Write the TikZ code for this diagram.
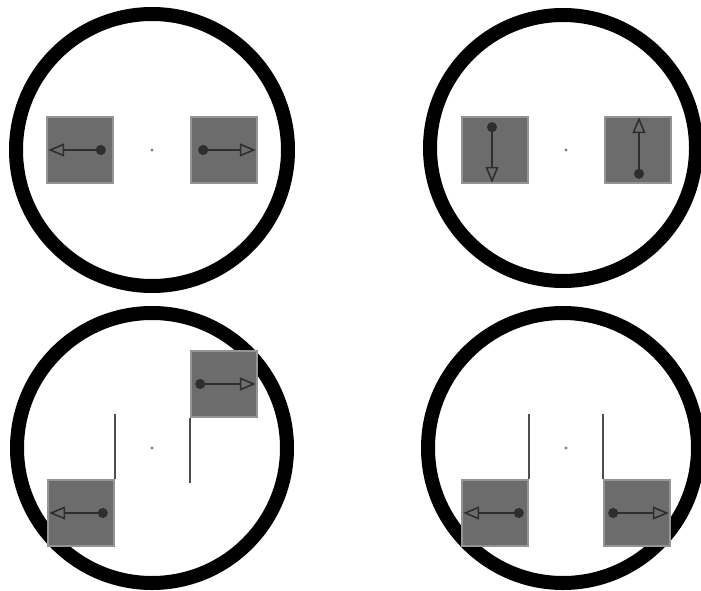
\documentclass[tikz,border=0pt]{standalone}
\usepackage{tikz}
\usetikzlibrary{arrows.meta, calc}

\definecolor{platefill}{HTML}{6C6C6C}
\definecolor{plateedge}{HTML}{949494}
\definecolor{spingray}{HTML}{2E2E2E}

\tikzset{
    ring/.style={line width=14pt, black},
    plate/.style={draw=plateedge, line width=1.6pt, fill=platefill, minimum width=66pt, minimum height=66pt, inner sep=0pt},
    spin/.style={line width=1.6pt, draw=spingray, {Circle[length=10pt]}-{Triangle[open, length=16pt, width=13pt]}},
    hub/.style={circle, fill=gray, inner sep=1.2pt},
    rail/.style={line width=1.6pt, draw=spingray!85}
}

\begin{document}
\begin{tikzpicture}[x=1pt, y=-1pt]
    \useasboundingbox (0,0) rectangle (701,591);
    \fill[white] (0,0) rectangle (701,591);

    % rings
    \draw[ring] (152,150) circle (136);
    \draw[ring] (563,148) circle (133);
    \draw[ring] (152,448) circle (135);
    \draw[ring] (563,448) circle (135);

    % centres
    \node[hub] (hubA) at (152,150) {};
    \node[hub] (hubB) at (566,150) {};
    \node[hub] (hubC) at (152,448) {};
    \node[hub] (hubD) at (566,448) {};

    % top left: both point outward
    \node[plate] (aL) at (80,150) {};
    \node[plate] (aR) at (224,150) {};
    \draw[spin] ($(aL.east)+(-8,0)$) -- ($(aL.west)+(2,0)$);
    \draw[spin] ($(aR.west)+(8,0)$) -- ($(aR.east)+(-2,0)$);

    % top right: down and up
    \node[plate] (bL) at (495,150) {};
    \node[plate] (bR) at (638,150) {};
    \draw[spin] ($(bL.north)+(-3,6)$) -- ($(bL.south)+(-3,-1)$);
    \draw[spin] ($(bR.south)+(1,-5)$) -- ($(bR.north)+(1,1)$);

    % bottom left: shifted pair
    \node[plate] (cU) at (224,384) {};
    \node[plate] (cD) at (81,513) {};
    \draw[spin] ($(cU.west)+(5,0)$) -- ($(cU.east)+(-2,0)$);
    \draw[spin] ($(cD.east)+(-7,0)$) -- ($(cD.west)+(2,0)$);
    \path (cU.south west) ++(0,65) coordinate (cUend);
    \path (cD.north east) ++(0,-65) coordinate (cDend);
    \draw[rail] (cU.south west) -- (cUend);
    \draw[rail] (cD.north east) -- (cDend);

    % bottom right: both low
    \node[plate] (dL) at (495,513) {};
    \node[plate] (dR) at (637,513) {};
    \draw[spin] ($(dL.east)+(-5,0)$) -- ($(dL.west)+(2,0)$);
    \draw[spin] ($(dR.west)+(5,0)$) -- ($(dR.east)+(-2,0)$);
    \path (dL.north east) ++(0,-65) coordinate (dLend);
    \path (dR.north west) ++(0,-65) coordinate (dRend);
    \draw[rail] (dL.north east) -- (dLend);
    \draw[rail] (dR.north west) -- (dRend);
\end{tikzpicture}
\end{document}
